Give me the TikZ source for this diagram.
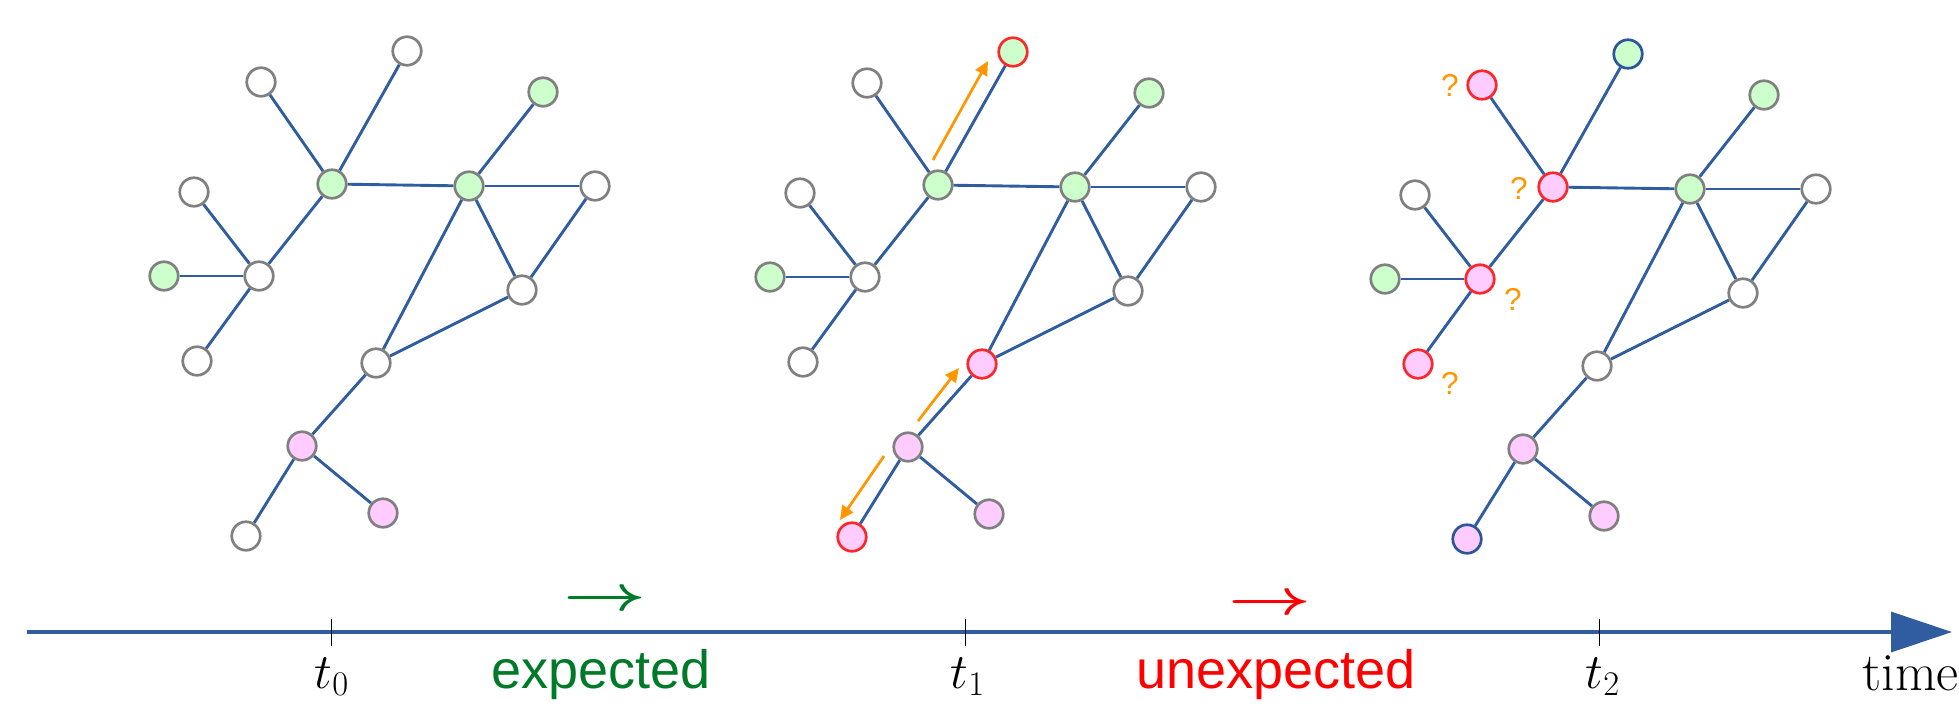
\documentclass[tikz,border=0pt]{standalone}
\usepackage{fontspec}
\usepackage{graphicx}
\newfontfamily\arialfont{Liberation Sans}
\usetikzlibrary{arrows.meta,backgrounds}
\definecolor{edgeblue}{RGB}{47,93,160}
\definecolor{nodegray}{RGB}{128,128,128}
\definecolor{nodegreen}{RGB}{204,255,204}
\definecolor{nodepink}{RGB}{255,204,255}
\definecolor{nodered}{RGB}{250,40,40}
\definecolor{nodeblue}{RGB}{45,85,155}
\definecolor{orangearr}{RGB}{255,150,0}
\definecolor{txtgreen}{RGB}{0,122,40}
\definecolor{txtred}{RGB}{255,0,0}
\begin{document}
\begin{tikzpicture}[x=0.5pt,y=-0.5pt,
  vtx/.style={circle,minimum size=14.25pt,inner sep=0pt,line width=1.35pt},
  wn/.style={vtx,draw=nodegray,fill=white},
  gn/.style={vtx,draw=nodegray,fill=nodegreen},
  pn/.style={vtx,draw=nodegray,fill=nodepink},
  gr/.style={vtx,draw=nodered,fill=nodegreen},
  pr/.style={vtx,draw=nodered,fill=nodepink},
  gb/.style={vtx,draw=nodeblue,fill=nodegreen},
  pb/.style={vtx,draw=nodeblue,fill=nodepink},
  gedge/.style={draw=edgeblue,line width=1.45pt},
  oarrow/.style={draw=orangearr,line width=1.35pt,-{Triangle[length=7pt,width=6.5pt]}},
  timeline/.style={draw=edgeblue,line width=1.7pt,-{Triangle[length=30.5pt,width=20pt]}},
  tickmark/.style={draw=black,line width=0.5pt},
  qmark/.style={text=orangearr,font=\arialfont\fontsize{15.8}{16}\selectfont,inner sep=0pt,anchor=base},
  tlabel/.style={font=\fontsize{27}{30}\selectfont,inner sep=0pt,anchor=base},
  wordlabel/.style={font=\arialfont\fontsize{27}{30}\selectfont,inner sep=0pt,anchor=base},
  arrlabel/.style={font=\fontsize{25}{25}\selectfont\boldmath,inner sep=0pt}
]
\useasboundingbox (0,0) rectangle (1959,714);

% vertices of the three snapshots
\foreach \n/\px/\py/\sa/\sb/\sc in {
  1/1013/52/wn/gr/gb,
  2/867/83/wn/wn/pr,
  3/938/185/gn/gn/pr,
  4/1075/187/gn/gn/gn,
  5/1149/93/gn/gn/gn,
  6/1201/187/wn/wn/wn,
  7/800/193/wn/wn/wn,
  8/770/277/gn/gn/gn,
  9/865/277/wn/wn/pr,
  10/803/362/wn/wn/pr,
  11/1128/291/wn/wn/wn,
  12/982/364/wn/pr/wn,
  13/908/447/pn/pn/pn,
  14/989/514/pn/pn/pn,
  15/852/537/wn/pr/pb}
{
  \node[\sa] (A\n) at (\px-606,\py-1) {};
  \node[\sb] (B\n) at (\px,\py) {};
  \node[\sc] (C\n) at (\px+615,\py+2) {};
}

% edges
\begin{scope}[on background layer]
\foreach \g in {A,B,C}{
  \foreach \u/\v in {2/3,1/3,3/4,3/9,9/7,9/8,9/10,4/5,4/6,4/11,6/11,4/12,11/12,12/13,13/15,13/14}
    \draw[gedge] (\g\u) -- (\g\v);
}
\end{scope}

% orange propagation arrows
\coordinate (o1s) at (933,160); \coordinate (o1e) at (988,61);
\coordinate (o2s) at (918,421); \coordinate (o2e) at (959,368);
\coordinate (o3s) at (884,456); \coordinate (o3e) at (840,520);
\draw[oarrow] (o1s) -- (o1e);
\draw[oarrow] (o2s) -- (o2e);
\draw[oarrow] (o3s) -- (o3e);

% question marks
\node[qmark] (q1) at (1450,96) {?};
\node[qmark] (q2) at (1519,199) {?};
\node[qmark] (q3) at (1513,310) {?};
\node[qmark] (q4) at (1450,394) {?};

% timeline
\coordinate (tls) at (27,632);
\coordinate (tle) at (1952,632);
\draw[timeline] (tls) -- (tle);
\coordinate (k0a) at (331,619); \coordinate (k0b) at (331,646);
\coordinate (k1a) at (965,619); \coordinate (k1b) at (965,646);
\coordinate (k2a) at (1599,619); \coordinate (k2b) at (1599,646);
\draw[tickmark] (k0a) -- (k0b);
\draw[tickmark] (k1a) -- (k1b);
\draw[tickmark] (k2a) -- (k2b);

\node[tlabel] (t0) at (332,688) {$t_0$};
\node[tlabel] (t1) at (968,688) {$t_1$};
\node[tlabel] (t2) at (1603,688) {$t_2$};
\node[tlabel,anchor=base west] (tm) at (1862,690) {time};

\node[wordlabel,text=txtgreen] (exp) at (601,688) {expected};
\node[wordlabel,text=txtred] (unexp) at (1276,688) {unexpected};
\node[arrlabel,text=txtgreen] (ga) at (605,601) {\scalebox{1.45}[1]{$\rightarrow$}};
\node[arrlabel,text=txtred] (ra) at (1270,605) {\scalebox{1.45}[1]{$\rightarrow$}};
\end{tikzpicture}
\end{document}
